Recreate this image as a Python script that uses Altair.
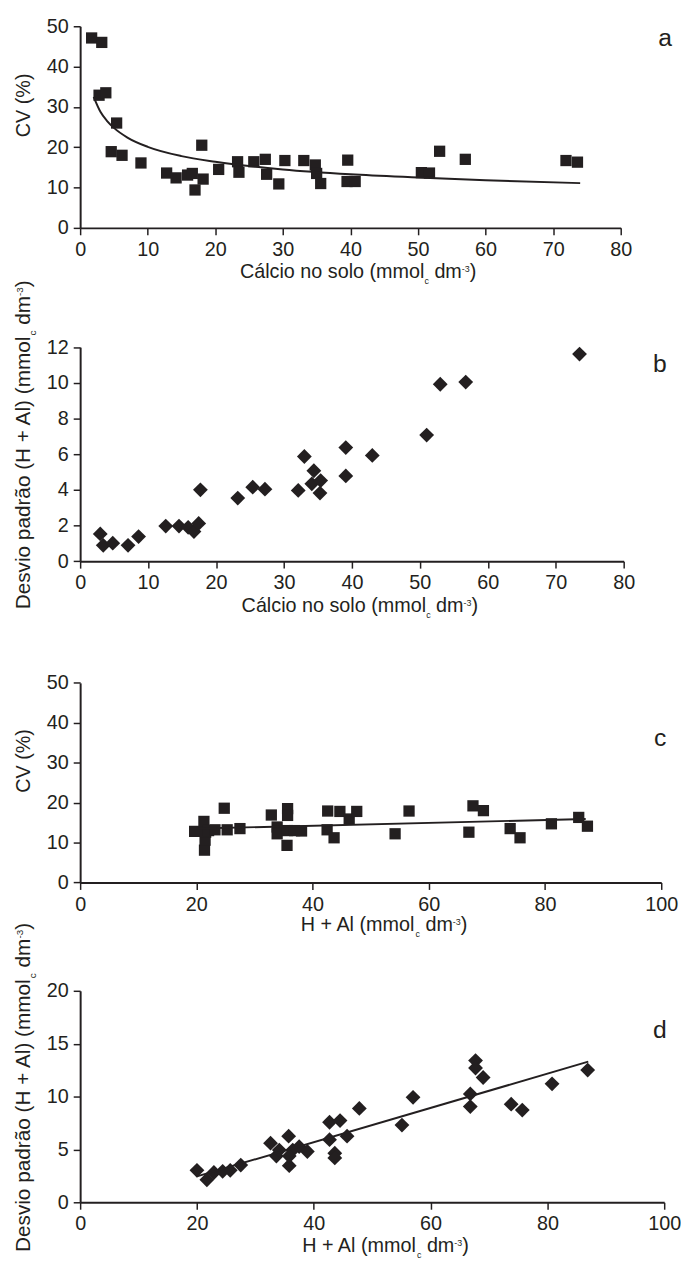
import altair as alt
import pandas as pd

INK = "#231f20"
FONT = "Liberation Sans"

# ---------------- data ----------------
# panel a : Calcio no solo vs CV (%)
a_x = [1.7, 3.2, 2.8, 3.8, 5.4, 4.6, 6.2, 9.0, 12.8, 14.2, 15.9, 16.6, 17.0, 18.2, 18.0, 20.5,
       23.3, 23.5, 25.7, 27.4, 27.6, 29.4, 30.3, 33.1, 34.8, 35.0, 35.6, 39.6, 39.5, 40.7,
       50.5, 51.7, 53.2, 57.0, 71.9, 73.6]
a_y = [47.1, 46.0, 32.9, 33.5, 26.0, 18.9, 18.0, 16.1, 13.6, 12.4, 13.1, 13.5, 9.4, 12.1, 20.5, 14.5,
       16.4, 13.8, 16.4, 17.0, 13.3, 10.9, 16.7, 16.7, 15.6, 13.5, 11.0, 16.8, 11.5, 11.5,
       13.7, 13.6, 19.0, 17.0, 16.7, 16.3]
a_fit_x = [2, 3, 4, 5, 7, 10, 15, 20, 30, 40, 50, 60, 74]
a_fit_y = [32.5, 28.8, 26.5, 24.8, 22.4, 20.1, 17.8, 16.4, 14.5, 13.3, 12.5, 11.8, 11.1]

# panel b : Calcio no solo vs desvio padrao
b_x = [2.96, 3.4, 4.8, 7.05, 8.6, 12.6, 14.55, 15.9, 16.75, 17.45, 17.7, 23.2, 25.4, 27.2, 32.1,
       33.0, 34.4, 34.1, 35.4, 35.3, 39.1, 39.1, 43.0, 51.0, 53.0, 56.75, 73.5]
b_y = [1.53, 0.89, 1.01, 0.89, 1.38, 1.97, 1.97, 1.9, 1.66, 2.12, 4.0, 3.54, 4.15, 4.04, 3.97,
       5.87, 5.07, 4.34, 4.52, 3.82, 6.37, 4.78, 5.93, 7.07, 9.92, 10.04, 11.61]

# panel c : H + Al vs CV (%)
c_x = [19.7, 21.3, 21.4, 21.5, 21.6, 22.1, 23.2, 24.8, 25.3, 27.5, 32.9, 33.9, 33.9, 35.7, 35.7,
       35.7, 35.6, 36.9, 38.1, 42.6, 44.7, 42.5, 43.7, 46.3, 47.6, 54.2, 56.6, 67.6, 69.4, 66.9,
       74.0, 75.7, 81.1, 85.8, 87.3]
c_y = [12.8, 15.3, 8.1, 10.6, 12.6, 13.0, 13.2, 18.6, 13.2, 13.5, 16.9, 13.9, 12.2, 18.5, 16.8,
       13.0, 9.3, 13.0, 12.9, 17.9, 17.8, 13.2, 11.2, 15.9, 17.8, 12.2, 17.9, 19.2, 18.0, 12.6,
       13.5, 11.2, 14.7, 16.3, 14.1]
c_fit_x = [20, 87]
c_fit_y = [13.5, 15.9]

# panel d : H + Al vs desvio padrao
d_x = [20.0, 21.7, 22.9, 24.4, 25.7, 27.5, 32.6, 33.6, 35.7, 35.8, 34.1, 36.4, 37.5, 38.9, 35.8,
       42.7, 44.5, 42.7, 43.6, 43.6, 45.7, 47.8, 55.1, 57.0, 66.8, 66.8, 67.7, 67.7, 69.0, 73.8,
       75.7, 80.8, 86.9]
d_y = [3.02, 2.13, 2.82, 2.93, 3.02, 3.52, 5.59, 4.38, 6.25, 3.46, 4.94, 4.94, 5.26, 4.8, 4.38,
       7.57, 7.73, 5.92, 4.64, 4.2, 6.25, 8.88, 7.3, 9.93, 10.25, 9.05, 13.4, 12.7, 11.8, 9.28,
       8.72, 11.2, 12.5]
d_fit_x = [20, 87]
d_fit_y = [2.45, 13.3]

x_ticks_ab = [0, 10, 20, 30, 40, 50, 60, 70, 80]
x_ticks_cd = [0, 20, 40, 60, 80, 100]
y_ticks_a = [0, 10, 20, 30, 40, 50]
y_ticks_b = [0, 2, 4, 6, 8, 10, 12]
y_ticks_c = [0, 10, 20, 30, 40, 50]
y_ticks_d = [0, 5, 10, 15, 20]

CV_TITLE = [("CV (%)", 20, 0)]
CA_TITLE = [("Cálcio no solo (mmol", 20, 0), ("c", 9, 6), (" dm", 20, 0), ("-3", 9, -6), (")", 20, 0)]
HAL_TITLE = [("H + Al (mmol", 20, 0), ("c", 9, 6), (" dm", 20, 0), ("-3", 9, -6), (")", 20, 0)]
DP_TITLE = [("Desvio padrão (H + Al) (mmol", 21, 0), ("c", 10, 6), (" dm", 21, 0), ("-3", 10, -7),
            (")", 21, 0)]

# ---------------- helpers ----------------
WID = {' ': 278, '(': 333, ')': 333, '+': 584, '-': 333, '%': 889, 'A': 667, 'C': 722, 'D': 722,
       'H': 722, 'V': 667, 'a': 556, 'á': 556, 'ã': 556, 'b': 556, 'c': 500, 'd': 556, 'e': 556,
       'i': 222, 'l': 222, 'm': 833, 'n': 556, 'o': 556, 'p': 556, 'r': 333, 's': 500, 'v': 500}


def tw(s, size):
    return sum(WID.get(ch, 556) for ch in s) * size / 1000.0


def rich(pieces, x, y, angle=0):
    total = sum(tw(t, s) for t, s, _ in pieces)
    off = -total / 2.0
    out = []
    for t, s, sh in pieces:
        lead = len(t) - len(t.lstrip(' '))
        core = t.strip(' ')
        out.append(
            alt.Chart(alt.Data(values=[{"t": core}])).mark_text(
                align="left", baseline="alphabetic", font=FONT, fontSize=s, color=INK,
                angle=angle, dx=off + tw(' ' * lead, s), dy=sh
            ).encode(x=alt.value(x), y=alt.value(y), text=alt.Text("t:N"))
        )
        off += tw(t, s)
    return out


def letter(ch, x, y):
    return alt.Chart(alt.Data(values=[{"t": ch}])).mark_text(
        align="center", baseline="alphabetic", font=FONT, fontSize=25, color=INK
    ).encode(x=alt.value(x), y=alt.value(y), text=alt.Text("t:N"))


AXC = dict(title=None, grid=False, domainColor=INK, domainWidth=2, tickColor=INK, tickWidth=1.5,
           tickSize=7, labelFont=FONT, labelFontSize=20, labelColor=INK, labelFlush=False,
           labelOverlap=False)


def panel(xs, ys, shape, size, fx, fy, xdom, xticks, ydom, yticks, width, H, plot_h, texts,
          interp="linear", extra=()):
    pts_df = pd.DataFrame({"x": xs, "y": ys})
    fit_df = pd.DataFrame({"x": fx, "y": fy})
    xenc = alt.X("x:Q", scale=alt.Scale(domain=xdom, nice=False, zero=False),
                 axis=alt.Axis(values=xticks, labelPadding=5, **AXC))
    yenc = alt.Y("y:Q", scale=alt.Scale(domain=ydom, nice=False, zero=False, range=[H, H - plot_h]),
                 axis=alt.Axis(values=yticks, labelPadding=5, **AXC))
    pts = alt.Chart(pts_df).mark_point(shape=shape, filled=True, size=size, color=INK,
                                       opacity=1, strokeWidth=0).encode(x=xenc, y=yenc)
    line = alt.Chart(fit_df).mark_line(color=INK, strokeWidth=2, interpolate=interp).encode(
        x=xenc, y=yenc)
    return alt.layer(pts, line, *texts, *extra).properties(width=width, height=H)


anchor = alt.Chart(alt.Data(values=[{"v": 1}])).mark_point(opacity=0, size=1).encode(
    x=alt.value(-72), y=alt.value(-10))

YT_X = -51

pa = panel(a_x, a_y, "square", 130, a_fit_x, a_fit_y, [0, 80], x_ticks_ab, [0, 50], y_ticks_a,
           547, 204, 204,
           rich(CV_TITLE, YT_X, 80, 270) + rich(CA_TITLE, 281.3, 255) + [letter("a", 592, 19.7)],
           interp="monotone", extra=(anchor,))

pb = panel(b_x, b_y, "diamond", 225, [], [], [0, 80], x_ticks_ab, [0, 12], y_ticks_b,
           550, 337.3, 216.6,
           rich(DP_TITLE, YT_X, 219.5, 270) + rich(CA_TITLE, 283, 388.3) + [letter("b", 586.7, 145.7)])

pc = panel(c_x, c_y, "square", 130, c_fit_x, c_fit_y, [0, 100], x_ticks_cd, [0, 50], y_ticks_c,
           588, 324.4, 202,
           rich(CV_TITLE, YT_X, 201.4, 270) + rich(HAL_TITLE, 307.5, 373.7) + [letter("c", 587, 186.7)])

pd_ = panel(d_x, d_y, "diamond", 225, d_fit_x, d_fit_y, [0, 100], x_ticks_cd, [0, 20], y_ticks_d,
            591, 323, 214,
            rich(DP_TITLE, YT_X, 206.8, 270) + rich(HAL_TITLE, 309, 373.3) + [letter("d", 586.7, 156.6)])

chart = alt.vconcat(pa, pb, pc, pd_, spacing=0, bounds="flush", padding=0).configure_view(stroke=None)

chart.save("out.html", embed_options={"renderer": "svg", "actions": False})
